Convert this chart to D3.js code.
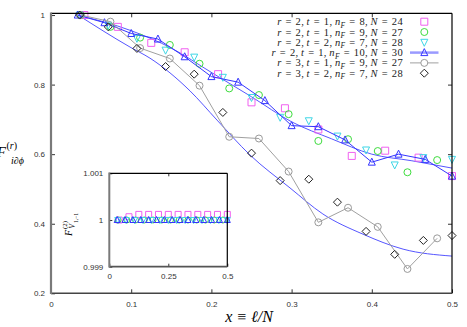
<!DOCTYPE html>
<html lang="en">
<head>
<meta charset="UTF-8">
<title>F ratio vs x</title>
<script src="https://d3js.org/d3.v7.min.js"></script>
<style>
  body { margin: 0; background: #fff; }
  svg { display: block; }
  .tick text { font-family: "Liberation Sans", sans-serif; font-size: 8px; fill: #333; }
  .math { font-family: "Liberation Serif", serif; }
</style>
</head>
<body>
<div id="chart"></div>
<script>
// ---- data (x = l/N, l = 1,2,...) ----
var pinkY  = [1.0, 0.966, 0.920, 0.893, 0.830, 0.749, 0.732, 0.671, 0.595, 0.610, 0.590, 0.537];            // N=24
var greenY = [1.0, 0.966, 0.935, 0.914, 0.860, 0.789, 0.770, 0.715, 0.638, 0.643, 0.609, 0.548, 0.583];     // N=27
var cyanY  = [1.0, 0.971, 0.933, 0.899, 0.879, 0.821, 0.763, 0.706, 0.696, 0.652, 0.612, 0.569, 0.590, 0.585]; // N=28
var blueY  = [1.0, 0.978, 0.947, 0.931, 0.880, 0.823, 0.807, 0.754, 0.682, 0.679, 0.641, 0.577, 0.600, 0.585, 0.537]; // N=30
var grayY  = [1.0, 0.981, 0.905, 0.875, 0.797, 0.650, 0.645, 0.550, 0.404, 0.446, 0.391, 0.270, 0.358];     // N=27
var diamY  = [1.0, 0.966, 0.904, 0.852, 0.830, 0.720, 0.603, 0.524, 0.528, 0.462, 0.378, 0.312, 0.352, 0.366]; // N=28

// smooth reference curves (points read along them)
var curveUpX = [0.0333, 0.10, 0.15, 0.20, 0.25, 0.30, 0.35, 0.40, 0.45, 0.50];
var curveUpY = [1.0, 0.955, 0.905, 0.835, 0.765, 0.693, 0.644, 0.600, 0.581, 0.560];
var curveLoX = [0.0337, 0.0985, 0.1234, 0.1733, 0.207, 0.248, 0.298, 0.339, 0.389, 0.439, 0.50];
var curveLoY = [1.0, 0.908, 0.876, 0.782, 0.698, 0.598, 0.503, 0.428, 0.370, 0.327, 0.307];

// inset: F^(2)_{V_{1,-1}}
var insetPinkY  = [1.0, 1.00007, 1.00012, 1.00012, 1.00012, 1.00012, 1.00012, 1.00012, 1.00012, 1.00012, 1.00012, 1.00012];
var insetGreenY = [1, 1, 1, 1, 1, 1, 1, 1, 1, 1, 1, 1, 1];
var insetCyanY  = [1, 1, 1, 1, 1, 1, 1, 1, 1, 1, 1, 1, 1, 1];
var insetBlueY  = [1, 1, 1, 1, 1, 1, 1, 1, 1, 1, 1, 1, 1, 1, 1];

var legendRows = [
  {r: 2, t: 1, nF: 8,  N: 24},
  {r: 2, t: 1, nF: 9,  N: 27},
  {r: 2, t: 2, nF: 7,  N: 28},
  {r: 2, t: 1, nF: 10, N: 30},
  {r: 3, t: 1, nF: 9,  N: 27},
  {r: 3, t: 2, nF: 7,  N: 28}
];
var xTicks = [0, 0.1, 0.2, 0.3, 0.4, 0.5];
var yTicks = [0.2, 0.4, 0.6, 0.8, 1];
var insetXTicks = [0, 0.25, 0.5];
var insetYTicks = [0.999, 1, 1.001];

var W = 467, H = 327;
var svg = d3.select("#chart").append("svg").attr("width", W).attr("height", H);

var x = d3.scaleLinear().domain([0, 0.5]).range([51, 452]);
var y = d3.scaleLinear().domain([0.2, 1.005]).range([293.3, 13.3]);

function pts(arr, N) {
  return arr.map(function(v, i) { return {x: (i + 1) / N, y: v}; });
}

// marker shapes
function marker(type, s) {
  var h = s / 2;
  if (type == "square") return "M" + (-h) + "," + (-h) + "h" + s + "v" + s + "h" + (-s) + "Z";
  if (type == "circle") return d3.symbol(d3.symbolCircle, Math.PI * h * h)();
  if (type == "up") return "M0," + (-h - 0.5) + "L" + (h) + "," + (h - 0.5) + "L" + (-h) + "," + (h - 0.5) + "Z";
  if (type == "down") return "M0," + (h + 0.5) + "L" + (h) + "," + (-h + 0.5) + "L" + (-h) + "," + (-h + 0.5) + "Z";
  if (type == "diamond") return "M0," + (-h) + "L" + h + ",0L0," + h + "L" + (-h) + ",0Z";
}

var series = [
  {data: pts(pinkY, 24),  color: "#f060f0", shape: "square",  size: 7},
  {data: pts(greenY, 27), color: "#3ddc3d", shape: "circle",  size: 7},
  {data: pts(cyanY, 28),  color: "#3ed6e6", shape: "down",    size: 7},
  {data: pts(blueY, 30),  color: "#3434ff", shape: "up",      size: 7, line: "#3434ff"},
  {data: pts(grayY, 27),  color: "#9a9a9a", shape: "circle",  size: 7, line: "#a0a0a0"},
  {data: pts(diamY, 28),  color: "#222",    shape: "diamond", size: 8}
];

var line = d3.line().x(function(d) { return x(d.x); }).y(function(d) { return y(d.y); });
var smooth = d3.line().curve(d3.curveMonotoneX).x(function(d) { return x(d.x); }).y(function(d) { return y(d.y); });

// smooth curves
[[curveUpX, curveUpY], [curveLoX, curveLoY]].forEach(function(c) {
  var d = c[0].map(function(v, i) { return {x: v, y: c[1][i]}; });
  svg.append("path").attr("d", smooth(d)).attr("fill", "none")
    .attr("stroke", "#5656ff").attr("stroke-width", 1);
});

// series lines + markers
series.forEach(function(s) {
  if (s.line) {
    svg.append("path").attr("d", line(s.data)).attr("fill", "none")
      .attr("stroke", s.line).attr("stroke-width", 1);
  }
  svg.append("g").selectAll("path").data(s.data).enter().append("path")
    .attr("d", marker(s.shape, s.size))
    .attr("transform", function(d) { return "translate(" + x(d.x) + "," + y(d.y) + ")"; })
    .attr("fill", "none").attr("stroke", s.color).attr("stroke-width", 1);
});

// axes (ticks inward)
svg.append("g").attr("transform", "translate(0,293.3)")
  .call(d3.axisBottom(x).tickValues(xTicks).tickSizeInner(-4).tickSizeOuter(0).tickPadding(8).tickFormat(d3.format("")))
  .call(function(g) { g.select(".domain").remove(); g.selectAll("line").attr("stroke", "#333"); });
svg.append("g").attr("transform", "translate(0,13.3)")
  .call(d3.axisTop(x).tickValues(xTicks.slice(1, 5)).tickSizeInner(-4).tickSizeOuter(0).tickFormat(""))
  .call(function(g) { g.select(".domain").remove(); g.selectAll("line").attr("stroke", "#333"); });
svg.append("g").attr("transform", "translate(51,0)")
  .call(d3.axisLeft(y).tickValues(yTicks).tickSizeInner(-4).tickSizeOuter(0).tickPadding(6).tickFormat(d3.format("")))
  .call(function(g) { g.select(".domain").remove(); g.selectAll("line").attr("stroke", "#333"); });
svg.append("g").attr("transform", "translate(452,0)")
  .call(d3.axisRight(y).tickValues(yTicks.slice(1, 4)).tickSizeInner(-4).tickSizeOuter(0).tickFormat(""))
  .call(function(g) { g.select(".domain").remove(); g.selectAll("line").attr("stroke", "#333"); });

// frame
svg.append("line").attr("x1", 51).attr("x2", 452).attr("y1", 13.3).attr("y2", 13.3).attr("stroke", "#000").attr("stroke-width", 1.2);
svg.append("line").attr("x1", 452).attr("x2", 452).attr("y1", 13.3).attr("y2", 293.3).attr("stroke", "#000").attr("stroke-width", 1.2);
svg.append("line").attr("x1", 51).attr("x2", 452).attr("y1", 293.3).attr("y2", 293.3).attr("stroke", "#444").attr("stroke-width", 1.5);
svg.append("line").attr("x1", 51).attr("x2", 51).attr("y1", 12.5).attr("y2", 294).attr("stroke", "#7a7a7a").attr("stroke-width", 2.2);

// ---- inset ----
var ix = d3.scaleLinear().domain([0, 0.5]).range([109.3, 227.3]);
var iy = d3.scaleLinear().domain([0.999, 1.001]).range([266.7, 173.3]);

svg.append("rect").attr("x", 109.3).attr("y", 173.3).attr("width", 118).attr("height", 93.4).attr("fill", "#fff");

var inset = [
  {data: pts(insetPinkY, 24),  color: "#f060f0", shape: "square", size: 6},
  {data: pts(insetGreenY, 27), color: "#3ddc3d", shape: "circle", size: 6},
  {data: pts(insetCyanY, 28),  color: "#3ed6e6", shape: "down",   size: 6},
  {data: pts(insetBlueY, 30),  color: "#3434ff", shape: "up",     size: 6}
];
inset.forEach(function(s) {
  svg.append("g").selectAll("path").data(s.data).enter().append("path")
    .attr("d", marker(s.shape, s.size))
    .attr("transform", function(d) { return "translate(" + ix(d.x) + "," + iy(d.y) + ")"; })
    .attr("fill", "none").attr("stroke", s.color).attr("stroke-width", 1);
});

svg.append("g").attr("transform", "translate(0,266.7)")
  .call(d3.axisBottom(ix).tickValues(insetXTicks).tickSizeInner(-3).tickSizeOuter(0).tickPadding(7).tickFormat(d3.format("")))
  .call(function(g) { g.select(".domain").remove(); g.selectAll("line").attr("stroke", "#333"); });
svg.append("g").attr("transform", "translate(0,173.3)")
  .call(d3.axisTop(ix).tickValues([0.25]).tickSizeInner(-3).tickSizeOuter(0).tickFormat(""))
  .call(function(g) { g.select(".domain").remove(); g.selectAll("line").attr("stroke", "#333"); });
svg.append("g").attr("transform", "translate(109.3,0)")
  .call(d3.axisLeft(iy).tickValues(insetYTicks).tickSizeInner(-3).tickSizeOuter(0).tickPadding(6).tickFormat(d3.format("")))
  .call(function(g) { g.select(".domain").remove(); g.selectAll("line").attr("stroke", "#333"); });

svg.append("line").attr("x1", 109.3).attr("x2", 227.3).attr("y1", 173.3).attr("y2", 173.3).attr("stroke", "#000").attr("stroke-width", 1.2);
svg.append("line").attr("x1", 227.3).attr("x2", 227.3).attr("y1", 173.3).attr("y2", 266.7).attr("stroke", "#000").attr("stroke-width", 1.2);
svg.append("line").attr("x1", 109.3).attr("x2", 227.3).attr("y1", 266.7).attr("y2", 266.7).attr("stroke", "#555").attr("stroke-width", 1.8);
svg.append("line").attr("x1", 109.3).attr("x2", 109.3).attr("y1", 172.5).attr("y2", 267.5).attr("stroke", "#7a7a7a").attr("stroke-width", 2);

// inset y label (rotated)
var il = svg.append("g").attr("class", "math").attr("transform", "translate(72,236) rotate(-90)");
il.append("text").attr("x", 0).attr("y", 0).attr("font-size", 10).attr("font-style", "italic").text("F");
il.append("text").attr("x", 7).attr("y", -5).attr("font-size", 7).text("(2)");
il.append("text").attr("x", 7.5).attr("y", 3).attr("font-size", 7.5).attr("font-style", "italic").text("V");
il.append("text").attr("x", 13).attr("y", 5.5).attr("font-size", 5.5).text("1,\u22121");

// main y label (F partly outside the left edge, as in the original)
var yl = svg.append("g").attr("class", "math");
yl.append("text").attr("x", 6).attr("y", 157).attr("text-anchor", "end").attr("font-size", 15).attr("font-style", "italic").text("F");
var sup = yl.append("text").attr("x", 6.5).attr("y", 149).attr("font-size", 10);
sup.append("tspan").text("(");
sup.append("tspan").attr("font-style", "italic").text("r");
sup.append("tspan").text(")");
yl.append("text").attr("x", 11).attr("y", 164).attr("font-size", 10).attr("font-style", "italic").text("i\u2202\u03d5");

// x label
svg.append("text").attr("class", "math").attr("x", 249).attr("y", 322).attr("text-anchor", "middle")
  .attr("font-size", 16).attr("font-style", "italic").text("x \u2261 \u2113/N");

// ---- legend ----
var eq = "\u2004=\u2004";
var lg = svg.append("g");
legendRows.forEach(function(d, i) {
  var yy = 21.7 + i * 10.3;
  var t = lg.append("text").attr("class", "math").attr("x", 403).attr("y", yy + 3.5)
    .attr("text-anchor", "end").attr("font-size", 10.5).attr("letter-spacing", 0.35).attr("fill", "#222");
  t.append("tspan").attr("font-style", "italic").text("r");
  t.append("tspan").text(eq + d.r + ",\u2009");
  t.append("tspan").attr("font-style", "italic").text("t");
  t.append("tspan").text(eq + d.t + ",\u2009");
  t.append("tspan").attr("font-style", "italic").text("n");
  t.append("tspan").attr("font-style", "italic").attr("font-size", 7.5).attr("dy", 2.5).text("F");
  t.append("tspan").attr("dy", -2.5).text(eq + d.nF + ",\u2009");
  t.append("tspan").attr("font-style", "italic").text("N");
  t.append("tspan").text(eq + d.N);

  var s = series[i];
  if (i == 3) {
    lg.append("line").attr("x1", 410).attr("x2", 438.5).attr("y1", yy).attr("y2", yy)
      .attr("stroke", "#9a9aff").attr("stroke-width", 2.5);
  }
  if (i == 4) {
    lg.append("line").attr("x1", 410).attr("x2", 438.5).attr("y1", yy).attr("y2", yy)
      .attr("stroke", "#a0a0a0").attr("stroke-width", 1);
  }
  lg.append("path").attr("d", marker(s.shape, s.size))
    .attr("transform", "translate(424.3," + yy + ")")
    .attr("fill", i == 4 ? "#fff" : "none").attr("stroke", s.color).attr("stroke-width", 1);
});
</script>
</body>
</html>
